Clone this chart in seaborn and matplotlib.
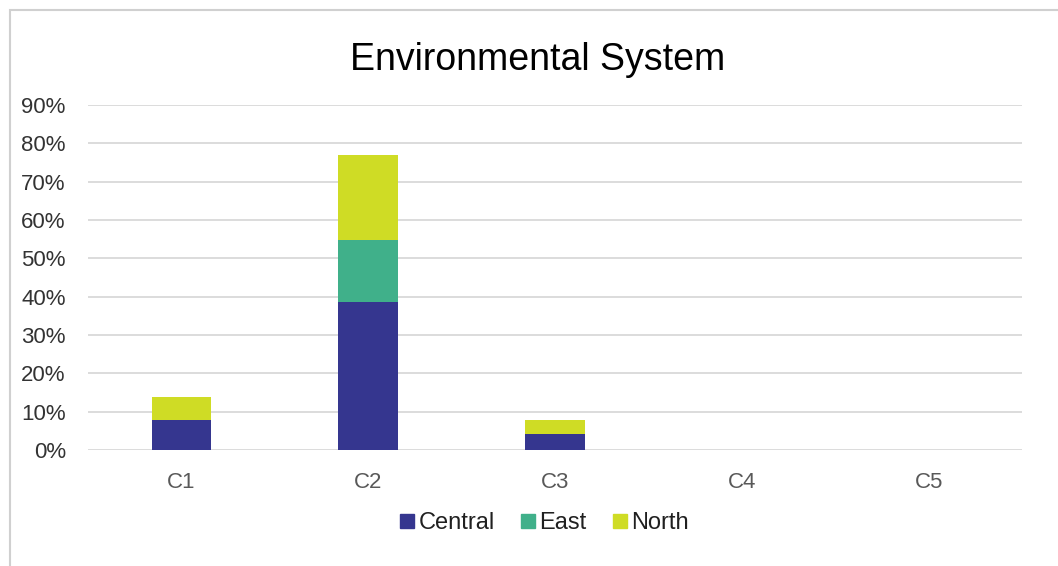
import numpy as np
import pandas as pd
import matplotlib
matplotlib.use("Agg")
import matplotlib.pyplot as plt
import seaborn as sns
from matplotlib.patches import Rectangle
from matplotlib.lines import Line2D

categories = ["C1", "C2", "C3", "C4", "C5"]
central = [0.078, 0.385, 0.043, 0.0, 0.0]
east = [0.0, 0.163, 0.0, 0.0, 0.0]
north = [0.061, 0.222, 0.035, 0.0, 0.0]
series_names = ["Central", "East", "North"]
colors = ["#35368f", "#40b08a", "#cfdc25"]
yticks = [0, 0.1, 0.2, 0.3, 0.4, 0.5, 0.6, 0.7, 0.8, 0.9]
ytick_labels = ["0%", "10%", "20%", "30%", "40%", "50%", "60%", "70%", "80%", "90%"]
title = "Environmental System"

sns.set_theme(style="white")
plt.rcParams["font.family"] = ["Liberation Sans", "DejaVu Sans"]

fig = plt.figure(figsize=(10.58, 5.66), dpi=100)
ax = fig.add_axes([88 / 1058, 1 - 450 / 566, (1022 - 88) / 1058, (450 - 105) / 566])

c = np.array(central)
e = np.array(east)
n = np.array(north)
layers = [c + e + n, c + e, c]
layer_colors = [colors[2], colors[1], colors[0]]
for vals, col in zip(layers, layer_colors):
    df = pd.DataFrame({"cat": categories, "val": vals})
    sns.barplot(data=df, x="cat", y="val", order=categories, color=col,
                width=0.32, ax=ax, saturation=1, errorbar=None, zorder=3,
                edgecolor=col, linewidth=0)

ax.set_ylim(0, 0.9)
ax.set_xlim(-0.5, 4.5)
ax.set_yticks(yticks)
ax.set_yticklabels(ytick_labels)
ax.yaxis.grid(True, color="#d9d9d9", linewidth=1.3, zorder=0)
ax.set_axisbelow(True)
for s in ax.spines.values():
    s.set_visible(False)
ax.set_xlabel("")
ax.set_ylabel("")
ax.tick_params(axis="y", labelsize=16, colors="#333333", length=0, pad=16)
ax.tick_params(axis="x", labelsize=16, colors="#595959", length=0, pad=16)

fig.text(538 / 1058, 1 - 60 / 566, title, ha="center", va="center",
         fontsize=27, color="#000000")

handles = [Line2D([0], [0], marker="s", linestyle="none", markersize=10,
                  markerfacecolor=col, markeredgecolor=col) for col in colors]
fig.legend(handles, series_names, loc="center", bbox_to_anchor=(542 / 1058, 1 - 523 / 566),
           ncol=3, frameon=False, fontsize=17, handletextpad=0.0, columnspacing=0.9,
           handlelength=1.0, labelcolor="#202020")

# chart frame (top and left edges visible)
fig.patches.append(Rectangle((10 / 1058, -0.1), 1.2, 1 - 10 / 566 + 0.1,
                             transform=fig.transFigure, fill=False,
                             edgecolor="#d0d0d0", linewidth=1.5))

fig.savefig("out.png", dpi=100)
